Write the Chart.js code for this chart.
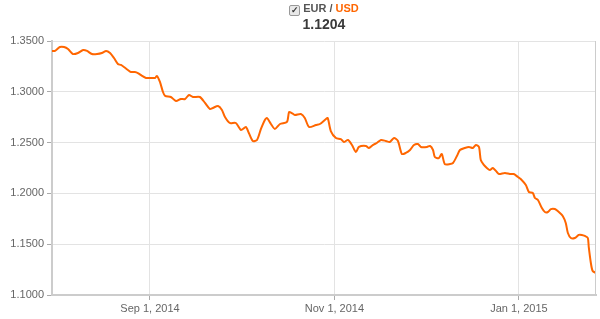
<!DOCTYPE html>
<html>
<head>
<meta charset="utf-8">
<script src="https://cdn.jsdelivr.net/npm/chart.js@4/dist/chart.umd.min.js"></script>
<style>
  html, body { margin: 0; padding: 0; background: #fff; }
  #wrap { position: relative; width: 600px; height: 319px; }
  #head { position: absolute; left: 52px; width: 544px; top: 2px; text-align: center;
          font-family: "Liberation Sans", Arial, sans-serif; }
  #pair { font-size: 11px; font-weight: bold; color: #555; line-height: 13px; }
  #pair .box { display: inline-block; width: 9px; height: 9px; border: 1px solid #999; border-radius: 2px;
               background: #e8e8e8; color: #333; font-size: 9px; line-height: 9px; text-align: center;
               vertical-align: -1px; margin-right: 3px; }
  #pair .usd { color: #ff6600; }
  #last { font-size: 14px; font-weight: bold; color: #3a3a3a; line-height: 16px; margin-top: 0px; }
  canvas { position: absolute; left: 0; top: 0; }
</style>
</head>
<body>
<div id="wrap">
  <canvas id="fx" width="600" height="319"></canvas>
  <div id="head">
    <div id="pair"><span class="box">&#10003;</span>EUR / <span class="usd">USD</span></div>
    <div id="last">1.1204</div>
  </div>
</div>
<script>
// days counted from Sep 1, 2014
var dayOffsets = [-32.4, -31.4, -29.8, -28.4, -27.1, -25.5, -23.8, -22.1, -20.8, -19.2,
  -17.5, -15.9, -14.5, -13.2, -11.9, -10.6, -9.6, -8.6, -7.3, -6.3,
  -5.0, -4.0, -2.6, -1.3, 0, 1.7, 2.3, 3.3, 4.3, 5.0,
  6.9, 8.6, 10.2, 11.6, 12.9, 14.2, 16.5, 18.2, 19.8, 20.8,
  22.5, 23.8, 24.8, 26.4, 28.4, 30.1, 31.7, 32.7, 34.0, 35.4,
  36.7, 38.0, 38.7, 40.0, 41.3, 43.0, 45.3, 46.0, 46.9, 47.9,
  49.9, 51.2, 52.6, 54.9, 56.2, 58.2, 58.8, 59.8, 61.5, 63.1,
  64.1, 65.5, 66.8, 68.1, 69.1, 71.4, 72.4, 73.7, 75.0, 76.4,
  78.0, 79.3, 80.7, 82.0, 83.3, 84.6, 86.0, 87.3, 88.6, 89.6,
  91.6, 92.6, 93.6, 94.2, 95.5, 96.5, 97.5, 99.2, 100.2, 101.5,
  102.5, 104.1, 105.5, 106.8, 107.8, 108.8, 109.4, 110.4, 111.4, 112.4,
  113.4, 114.7, 115.4, 117.4, 119.0, 120.3, 121.7, 122.6, 124.3, 125.3,
  126.6, 127.3, 128.3, 129.6, 130.6, 131.6, 132.6, 133.9, 135.2, 136.5,
  137.5, 138.2, 139.2, 140.5, 141.8, 142.8, 143.8, 144.8, 145.1, 145.8,
  146.4, 147.5];

var eurUsd = [1.3402, 1.3402, 1.3441, 1.3441, 1.3421, 1.3372, 1.3382, 1.3411, 1.3402, 1.3372,
  1.3372, 1.3382, 1.3402, 1.3382, 1.3333, 1.3274, 1.3264, 1.3244, 1.3215, 1.3195,
  1.3195, 1.3185, 1.3156, 1.3136, 1.3136, 1.3136, 1.3156, 1.3097, 1.2998, 1.2959,
  1.2949, 1.2909, 1.2929, 1.2929, 1.2969, 1.2949, 1.2949, 1.2890, 1.2831, 1.2841,
  1.2860, 1.2821, 1.2752, 1.2693, 1.2693, 1.2624, 1.2654, 1.2594, 1.2516, 1.2526,
  1.2634, 1.2722, 1.2742, 1.2683, 1.2634, 1.2683, 1.2703, 1.2801, 1.2791, 1.2772,
  1.2781, 1.2742, 1.2654, 1.2673, 1.2683, 1.2732, 1.2742, 1.2614, 1.2545, 1.2535,
  1.2506, 1.2526, 1.2476, 1.2407, 1.2457, 1.2467, 1.2447, 1.2476, 1.2496, 1.2526,
  1.2516, 1.2506, 1.2545, 1.2516, 1.2388, 1.2398, 1.2427, 1.2476, 1.2486, 1.2457,
  1.2457, 1.2467, 1.2427, 1.2358, 1.2348, 1.2388, 1.2289, 1.2289, 1.2299, 1.2368,
  1.2427, 1.2447, 1.2457, 1.2447, 1.2476, 1.2457, 1.2329, 1.2280, 1.2250, 1.2230,
  1.2250, 1.2211, 1.2191, 1.2201, 1.2191, 1.2191, 1.2161, 1.2142, 1.2083, 1.2014,
  1.2004, 1.1955, 1.1935, 1.1856, 1.1817, 1.1817, 1.1846, 1.1846, 1.1817, 1.1778,
  1.1709, 1.1610, 1.1561, 1.1561, 1.1591, 1.1591, 1.1581, 1.1561, 1.1473, 1.1315,
  1.1236, 1.1217];

var tickDays = [0, 61, 122];
var tickLabels = ["Sep 1, 2014", "Nov 1, 2014", "Jan 1, 2015"];

var points = dayOffsets.map(function (d, i) { return { x: d, y: eurUsd[i] }; });

var rightBorder = {
  id: "rightBorder",
  afterDraw: function (chart) {
    var a = chart.chartArea, c = chart.ctx;
    c.save();
    c.strokeStyle = "#cccccc";
    c.lineWidth = 1;
    c.beginPath();
    c.moveTo(a.right - 0.5, a.top);
    c.lineTo(a.right - 0.5, a.bottom);
    c.stroke();
    c.restore();
  }
};

Chart.defaults.font.family = '"Liberation Sans", Arial, sans-serif';
Chart.defaults.font.size = 11;
Chart.defaults.color = "#666";

new Chart(document.getElementById("fx"), {
  type: "line",
  data: {
    datasets: [{
      data: points,
      borderColor: "#ff6600",
      borderWidth: 2,
      pointRadius: 0,
      tension: 0.25,
      fill: false
    }]
  },
  options: {
    responsive: false,
    animation: false,
    layout: { padding: { top: 41, right: 4, left: 0, bottom: 0 } },
    plugins: { legend: { display: false }, tooltip: { enabled: false } },
    scales: {
      x: {
        type: "linear",
        min: -32.4,
        max: 147.5,
        afterBuildTicks: function (scale) {
          scale.ticks = tickDays.map(function (v) { return { value: v }; });
        },
        afterFit: function (scale) { scale.height = 24; },
        ticks: {
          autoSkip: false,
          maxRotation: 0,
          padding: 2,
          callback: function (v, i) { return tickLabels[i]; }
        },
        grid: { color: "#e3e3e3", tickColor: "#aaa", tickLength: 5 },
        border: { color: "#cccccc", width: 2 }
      },
      y: {
        min: 1.10,
        max: 1.35,
        afterFit: function (scale) { scale.width = 52; },
        ticks: {
          stepSize: 0.05,
          padding: 3,
          callback: function (v) { return v.toFixed(4); }
        },
        grid: { color: "#e3e3e3", tickColor: "#aaa", tickLength: 5 },
        border: { color: "#cccccc", width: 2 }
      }
    }
  },
  plugins: [rightBorder]
});
</script>
</body>
</html>
